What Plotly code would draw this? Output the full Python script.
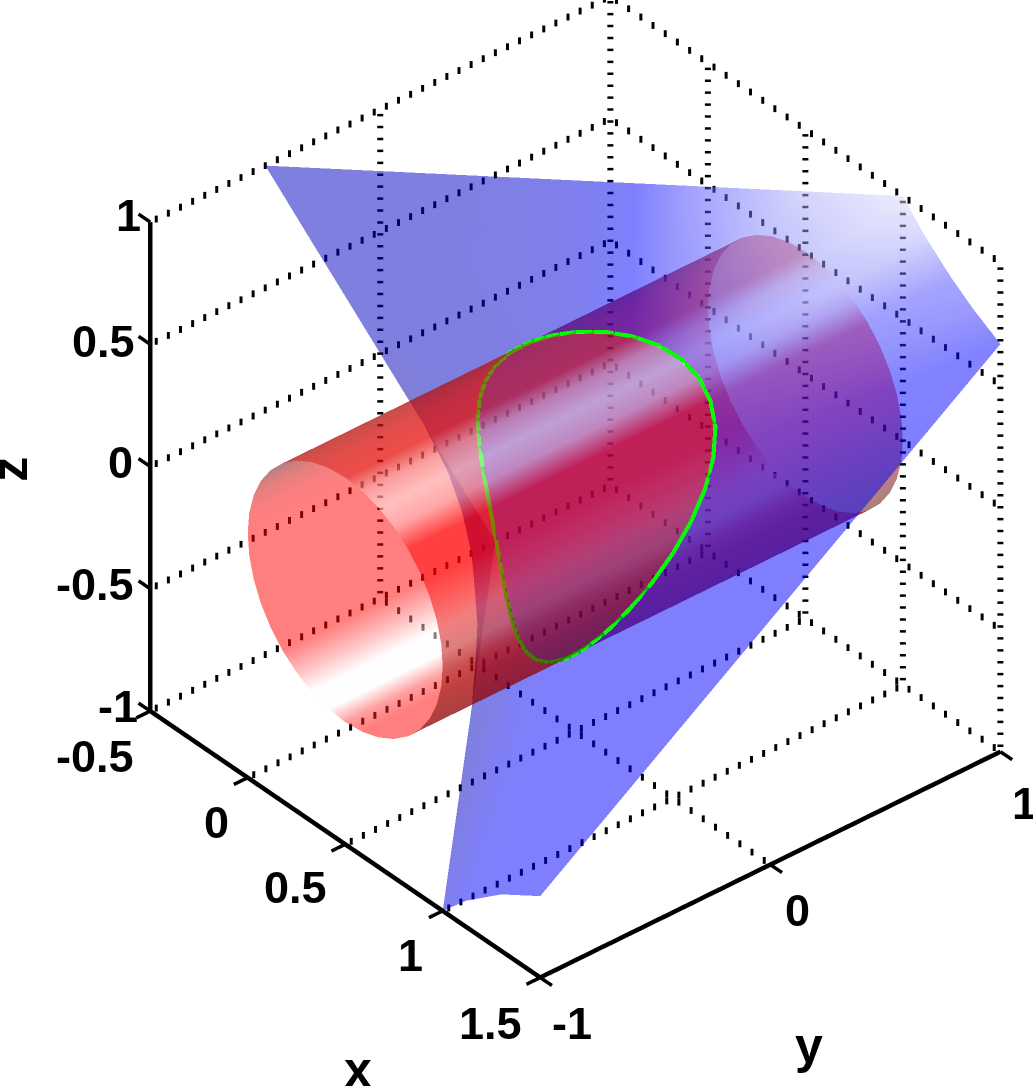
import plotly.graph_objects as go

#CYLINDER RIM (one point per 10 degrees, starting at angle 0)
cyl_x = [1.0, 0.9924, 0.9698, 0.933, 0.883, 0.8214, 0.75, 0.671, 0.5868, 0.5, 0.4132, 0.329, 0.25, 0.1786, 0.117, 0.067, 0.0302, 0.0076, 0.0,
         0.0076, 0.0302, 0.067, 0.117, 0.1786, 0.25, 0.329, 0.4132, 0.5, 0.5868, 0.671, 0.75, 0.8214, 0.883, 0.933, 0.9698, 0.9924, 1.0]
cyl_z = [0.0, 0.0868, 0.171, 0.25, 0.3214, 0.383, 0.433, 0.4698, 0.4924, 0.5, 0.4924, 0.4698, 0.433, 0.383, 0.3214, 0.25, 0.171, 0.0868, 0.0,
         -0.0868, -0.171, -0.25, -0.3214, -0.383, -0.433, -0.4698, -0.4924, -0.5, -0.4924, -0.4698, -0.433, -0.383, -0.3214, -0.25, -0.171, -0.0868, 0.0]
#GREEN CURVE, y of the rim points on the saddle
curve_y = [0.0, 0.0861, 0.1658, 0.2333, 0.2838, 0.3146, 0.3248, 0.3152, 0.2889, 0.25, 0.2035, 0.1546, 0.1083, 0.0684, 0.0376, 0.0168, 0.0052, 0.0007, 0.0,
           -0.0007, -0.0052, -0.0168, -0.0376, -0.0684, -0.1083, -0.1546, -0.2035, -0.25, -0.2889, -0.3152, -0.3248, -0.3146, -0.2838, -0.2333, -0.1658, -0.0861, 0.0]

#SHADES OF THE TWO CYLINDER WALLS (angles 310..490 front, 130..310 back)
front_shade = [0.0, 0.02, 0.07, 0.12, 0.2, 0.29, 0.41, 0.55, 0.6, 0.6, 0.6, 0.76, 0.8, 0.86, 1.0, 1.0, 1.0, 1.0, 1.0]
back_shade = [0.05, 0.1, 0.26, 0.45, 0.57, 0.6, 0.6, 0.6, 0.6, 0.6, 0.6, 0.7, 0.8, 0.8, 0.65, 0.6, 0.6, 0.6, 0.6]

#SADDLE, PART BEHIND THE CYLINDER (outer edge, same angles as back wall)
back_x = [-0.339, -0.5, -0.5, -0.5, -0.5, -0.5, -0.5, -0.5, -0.374, -0.267, -0.159, 0.002, 0.163, 0.324, 0.5, 0.676, 0.864, 1.0, 1.12]
back_y = [-0.339, -0.5, -0.289, -0.182, -0.088, 0.0, 0.088, 0.192, 0.187, 0.16, 0.111, -0.002, -0.163, -0.324, -0.5, -0.676, -0.864, -1.0, -1.0]
back_z = [1.0, 1.0, 0.577, 0.364, 0.176, 0.0, -0.176, -0.383, -0.5, -0.6, -0.7, -0.85, -1.0, -1.0, -1.0, -1.0, -1.0, -1.0, -0.893]
back_rim_tone = [0.15, 0.14, 0.14, 0.13, 0.12, 0.1, 0.08, 0.06, 0.05, 0.06, 0.1, 0.12, 0.18, 0.22, 0.25, 0.3, 0.35, 0.38, 0.4]
back_out_tone = [0.11, 0.1, 0.1, 0.1, 0.09, 0.05, 0.03, 0.02, 0.0, 0.0, 0.0, 0.0, 0.05, 0.1, 0.1, 0.13, 0.2, 0.25, 0.36]

#SADDLE, FOLDED FLAP BELOW THE FOLD LINE
flap_z = [-0.383, -0.5, -0.6, -0.7, -0.85, -1.0]
flap_left_x = [-0.5, -0.5, -0.5, -0.5, -0.5, -0.5]
flap_left_y = [0.192, 0.25, 0.3, 0.35, 0.425, 0.5]
flap_right_x = [-0.5, -0.374, -0.267, -0.159, 0.002, 0.163]
flap_right_y = [0.192, 0.187, 0.16, 0.111, -0.002, -0.163]

#SADDLE, PART IN FRONT OF THE CYLINDER (outer edge, same angles as front wall)
front_x = [1.12, 1.3, 1.5, 1.5, 1.5, 1.5, 1.5, 1.5, 1.5, 1.36, 1.25, 1.111, 1.0, 0.76, 0.5, 0.324, 0.136, -0.077, -0.339]
front_y = [-1.0, -1.0, -1.0, -0.546, -0.264, 0.0, 0.264, 0.546, 1.0, 1.0, 1.0, 1.0, 1.0, 0.76, 0.5, 0.324, 0.136, -0.077, -0.339]
front_z = [-0.893, -0.769, -0.667, -0.364, -0.176, 0.0, 0.176, 0.364, 0.667, 0.735, 0.8, 0.9, 1.0, 1.0, 1.0, 1.0, 1.0, 1.0, 1.0]
front_rim_tone = [0.4, 0.4, 0.4, 0.4, 0.4, 0.4, 0.4, 0.4, 0.42, 0.45, 0.5, 0.55, 0.55, 0.47, 0.4, 0.32, 0.25, 0.2, 0.15]
front_out_tone = [0.36, 0.4, 0.4, 0.4, 0.4, 0.4, 0.4, 0.4, 0.42, 0.55, 0.62, 0.9, 1.0, 0.88, 0.6, 0.33, 0.2, 0.12, 0.11]

#TICKS
x_ticks = [-0.5, 0.0, 0.5, 1.0, 1.5]
y_ticks = [-1.0, 0.0, 1.0]
z_ticks = [-1.0, -0.5, 0.0, 0.5, 1.0]
x_labels = ["-0.5", "0", "0.5", "1", "1.5"]
y_labels = ["-1", "0", "1"]
z_labels = ["-1", "-0.5", "0", "0.5", "1"]
x_shift = [(-55, -45), (-31, -45), (-50, -43), (-32, -45), (-50, -46)]
y_shift = [(32, -46), (27, -46), (24, -52)]
z_shift = [(-32, 5), (-55, 4), (-30, 4), (-47, 3), (-22, 7)]

RED = [[0, "rgb(80,0,0)"], [0.6, "rgb(255,0,0)"], [0.8, "rgb(255,255,255)"], [1, "rgb(215,25,20)"]]
BLUE = [[0, "rgb(0,0,170)"], [0.4, "rgb(0,0,255)"], [1, "rgb(215,215,250)"]]
FLAT = dict(ambient=1, diffuse=0, specular=0, roughness=1, fresnel=0)

fig = go.Figure()


def sheet(x, y, z, tone, scale):
    fig.add_trace(go.Surface(
        x=x, y=y, z=z, surfacecolor=tone, cmin=0, cmax=1, showscale=False, opacity=0.5,
        colorscale=scale, lighting=FLAT, hoverinfo="skip",
    ))


front_rim_x = cyl_x[31:36] + cyl_x[0:14]
front_rim_y = curve_y[31:36] + curve_y[0:14]
front_rim_z = cyl_z[31:36] + cyl_z[0:14]
back_rim_x = cyl_x[13:32]
back_rim_y = curve_y[13:32]
back_rim_z = cyl_z[13:32]
n = 19

#the surfaces blend in trace order, so they go in from far to near
sheet([flap_left_x, flap_right_x], [flap_left_y, flap_right_y], [flap_z, flap_z], [[0.0] * 6, [0.0] * 6], BLUE)
sheet([back_rim_x, back_x], [back_rim_y, back_y], [back_rim_z, back_z], [back_rim_tone, back_out_tone], BLUE)
sheet([back_rim_x, back_rim_x], [[-1.0] * n, [1.0] * n], [back_rim_z, back_rim_z], [back_shade, back_shade], RED)
sheet([[0.5] * 37, cyl_x], [[0.0] * 37, curve_y], [[0.0] * 37, cyl_z], [[0.25] * 37, [0.25] * 37], BLUE)
sheet([front_rim_x, front_rim_x], [[-1.0] * n, [1.0] * n], [front_rim_z, front_rim_z], [front_shade, front_shade], RED)
sheet([front_rim_x, front_x], [front_rim_y, front_y], [front_rim_z, front_z], [front_rim_tone, front_out_tone], BLUE)

fig.add_trace(go.Scatter3d(
    x=cyl_x, y=curve_y, z=cyl_z, mode="lines",
    line=dict(color="rgb(0,255,0)", width=8), hoverinfo="skip",
))


def seg(p, q, width):
    fig.add_trace(go.Scatter3d(
        x=[p[0], q[0]], y=[p[1], q[1]], z=[p[2], q[2]], mode="lines",
        line=dict(color="black", width=width), hoverinfo="skip",
    ))


#GRID, dotted by hand because the plotly dash patterns are too fine here
tall = [[], [], []]
wide = [[], [], []]


def dots(p, q, count, store, stroke):
    for i in range(count):
        f = (i + 0.5) / count
        for k in range(3):
            c = p[k] + (q[k] - p[k]) * f
            store[k] += [c - stroke[k], c + stroke[k], None]


up = (0, 0, 0.014)
side = (0.0064, 0.0076, 0)
for v in x_ticks:
    if v < 1.5:
        dots((v, -1, -1), (v, 1, -1), 38, tall, up)
    dots((v, 1, -1), (v, 1, 1), 41, wide, side)
for v in y_ticks:
    if v > -1:
        dots((-0.5, v, -1), (1.5, v, -1), 32, tall, up)
        dots((-0.5, v, -1), (-0.5, v, 1), 41, wide, side)
for v in z_ticks:
    dots((-0.5, -1, v), (-0.5, 1, v), 38, tall, up)
    dots((-0.5, 1, v), (1.5, 1, v), 32, tall, up)
for store, width in ((tall, 6), (wide, 5)):
    fig.add_trace(go.Scatter3d(
        x=store[0], y=store[1], z=store[2], mode="lines",
        line=dict(color="black", width=width), hoverinfo="skip",
    ))

#AXES
seg((-0.5, -1, -1), (1.5, -1, -1), 9)
seg((1.5, -1, -1), (1.5, 1, -1), 9)
seg((-0.5, -1, -1), (-0.5, -1, 1), 9)
for v in x_ticks:
    seg((v, -1, -1), (v, -1.06, -1), 7)
for v in y_ticks:
    seg((1.5, v, -1), (1.56, v, -1), 7)
for v in z_ticks:
    seg((-0.5, -1, v), (-0.56, -1, v), 7)

label_font = dict(family="Liberation Sans", size=45, color="black", weight=700)
notes = []
for v, t, s in zip(x_ticks, x_labels, x_shift):
    notes.append(dict(x=v, y=-1, z=-1, text=t, showarrow=False, xshift=s[0], yshift=s[1], font=label_font))
for v, t, s in zip(y_ticks, y_labels, y_shift):
    notes.append(dict(x=1.5, y=v, z=-1, text=t, showarrow=False, xshift=s[0], yshift=s[1], font=label_font))
for v, t, s in zip(z_ticks, z_labels, z_shift):
    notes.append(dict(x=-0.5, y=-1, z=v, text=t, showarrow=False, xshift=s[0], yshift=s[1], font=label_font))
title_font = dict(family="Liberation Sans", size=50, color="black", weight=700)
notes.append(dict(x=0.5, y=-1, z=-1, text="x", showarrow=False, xshift=13, yshift=-226, font=title_font))
notes.append(dict(x=1.5, y=0, z=-1, text="y", showarrow=False, xshift=39, yshift=-181, font=title_font))
notes.append(dict(x=-0.5, y=-1, z=0, text="z", showarrow=False, xshift=-141, yshift=-3, textangle=-90, font=title_font))

hidden = dict(visible=False, showgrid=False, zeroline=False, showticklabels=False, showspikes=False, title="")
cx, cy, cz = -0.0244, -0.1213, -0.0843
dist = 1.6
fig.update_layout(
    width=1033, height=1086, margin=dict(l=0, r=0, t=0, b=0, pad=0),
    paper_bgcolor="white", showlegend=False,
    scene=dict(
        xaxis=dict(range=[-0.6, 1.6], **hidden),
        yaxis=dict(range=[-1.1, 1.1], **hidden),
        zaxis=dict(range=[-1.1, 1.1], **hidden),
        aspectmode="manual", aspectratio=dict(x=1.222, y=1.222, z=1.215),
        domain=dict(x=[0, 1], y=[0, 1]),
        camera=dict(
            projection=dict(type="orthographic"),
            up=dict(x=0, y=0, z=1),
            center=dict(x=cx, y=cy, z=cz),
            eye=dict(x=cx + 0.623 * dist, y=cy - 0.528 * dist, z=cz + 0.58 * dist),
        ),
        annotations=notes,
    ),
)

fig.write_html("out.html", config=dict(displayModeBar=False), post_script="document.body.style.margin='0';")
